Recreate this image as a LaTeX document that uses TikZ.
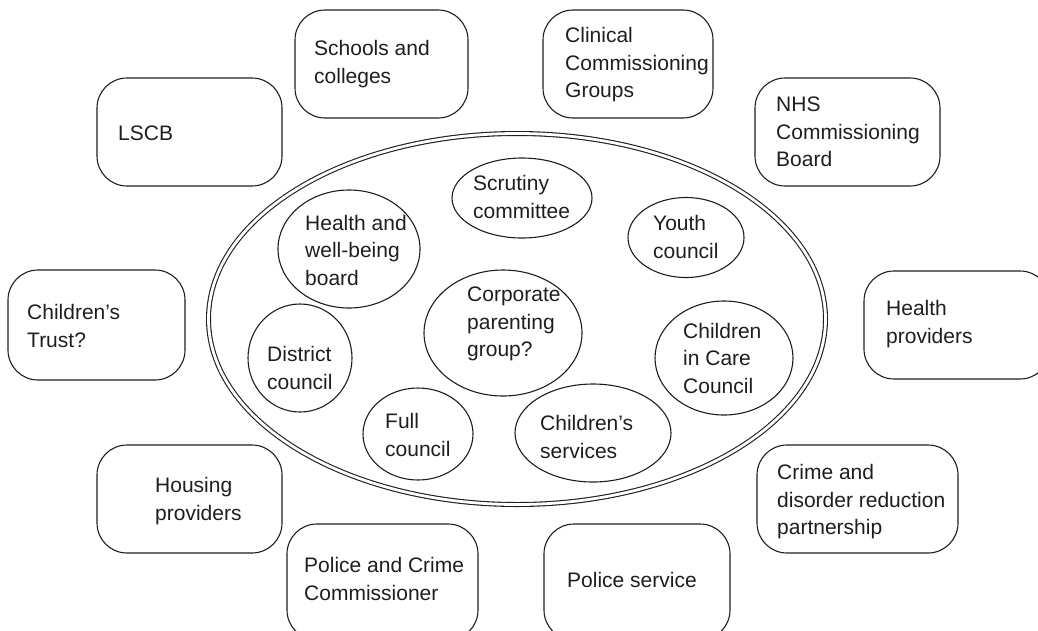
\documentclass[tikz,border=0pt]{standalone}
\usepackage{fontspec}
\setmainfont{Liberation Sans}
\usetikzlibrary{shapes.geometric}
\definecolor{ink}{HTML}{1E1E1E}
\begin{document}
\begin{tikzpicture}[x=1pt,y=-1pt,
  partner/.style={draw=ink, line width=1.1pt, rounded corners=30pt, inner sep=0pt},
  body/.style={draw=ink, line width=1.1pt, ellipse, inner sep=0pt},
  frame/.style={draw=ink, line width=1.1pt, ellipse, inner sep=0pt, double, double distance=2.8pt},
  lbl/.style={text=ink, align=left, inner sep=0pt, anchor=west, font=\fontsize{21}{27.5}\selectfont}]
\useasboundingbox (0,0) rectangle (1038,630);
\clip (0,0) rectangle (1038,630);

% outer partners (rounded boxes)
\node[partner, minimum width=173pt, minimum height=108pt] (schools) at (381.5,64) {};
\node[lbl] (schoolsT) at (314,64) {Schools and\\colleges};

\node[partner, minimum width=170pt, minimum height=108pt] (ccg) at (628,64) {};
\node[lbl] (ccgT) at (565,65) {Clinical\\Commissioning\\Groups};

\node[partner, minimum width=185pt, minimum height=108pt] (lscb) at (189.5,132) {};
\node[lbl] (lscbT) at (118,133) {LSCB};

\node[partner, minimum width=185pt, minimum height=108pt] (nhs) at (847.5,132) {};
\node[lbl] (nhsT) at (776,132) {NHS\\Commissioning\\Board};

\node[partner, minimum width=177pt, minimum height=110pt] (trust) at (96.5,325) {};
\node[lbl] (trustT) at (27,326) {Children’s\\Trust?};

\node[partner, minimum width=186pt, minimum height=108pt] (health) at (957,325) {};
\node[lbl] (healthT) at (886,324) {Health\\providers};

\node[partner, minimum width=185pt, minimum height=108pt] (housing) at (189.5,499) {};
\node[lbl] (housingT) at (155,501) {Housing\\providers};

\node[partner, minimum width=201pt, minimum height=108pt] (crime) at (857.5,499) {};
\node[lbl] (crimeT) at (777,502) {Crime and\\disorder reduction\\partnership};

\node[partner, minimum width=191pt, minimum height=116pt] (pcc) at (382.5,582) {};
\node[lbl] (pccT) at (304,579) {Police and Crime\\Commissioner};

\node[partner, minimum width=186pt, minimum height=116pt] (police) at (637,582) {};
\node[lbl] (policeT) at (567,580) {Police service};

% the local authority and its bodies
\node[frame, minimum width=617pt, minimum height=371pt] (la) at (517,319) {};

\node[body, minimum width=140pt, minimum height=80pt] (scrutiny) at (522,198) {};
\node[lbl] (scrutinyT) at (473,197) {Scrutiny\\committee};

\node[body, minimum width=142pt, minimum height=118pt] (hwb) at (349,249) {};
\node[lbl] (hwbT) at (305,250) {Health and\\well-being\\board};

\node[body, minimum width=116pt, minimum height=80pt] (youth) at (686,237.5) {};
\node[lbl] (youthT) at (653,237) {Youth\\council};

\node[body, minimum width=158pt, minimum height=126pt] (corp) at (503,333) {};
\node[lbl] (corpT) at (467,324) {Corporate\\parenting\\group?};

\node[body, minimum width=138pt, minimum height=114pt] (cicc) at (724,358) {};
\node[lbl] (ciccT) at (683,358) {Children\\in Care\\Council};

\node[body, minimum width=104pt, minimum height=108pt] (district) at (300,358) {};
\node[lbl] (districtT) at (267,368) {District\\council};

\node[body, minimum width=110pt, minimum height=92pt] (full) at (418,434) {};
\node[lbl] (fullT) at (385,435) {Full\\council};

\node[body, minimum width=156pt, minimum height=98pt] (csrv) at (593,433) {};
\node[lbl] (csrvT) at (540,437) {Children’s\\services};
\end{tikzpicture}
\end{document}
